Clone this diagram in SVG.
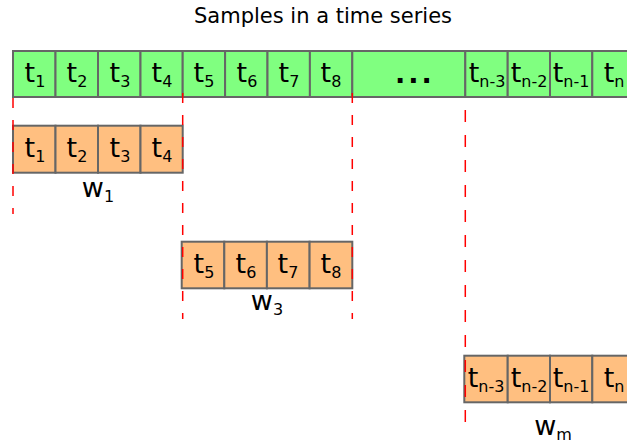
<svg xmlns="http://www.w3.org/2000/svg" width="627" height="447" viewBox="0 0 627 447">
<style>
.g{fill:#80ff80;stroke:#666;stroke-width:2}
.o{fill:#ffbf80;stroke:#666;stroke-width:2}
.t{font-family:"DejaVu Sans",sans-serif;font-size:27px;fill:#000;text-anchor:middle}
.s{font-size:16px}
.d{stroke:#ff0000;stroke-width:1.5;fill:none}
</style>
<rect width="627" height="447" fill="#fff"/>
<text x="323" y="23" font-family="DejaVu Sans, sans-serif" font-size="21" text-anchor="middle">Samples in a time series</text>

<g id="series">
<rect class="g" x="13" y="51" width="42.5" height="46"/>
<rect class="g" x="55.5" y="51" width="42.5" height="46"/>
<rect class="g" x="98" y="51" width="42.5" height="46"/>
<rect class="g" x="140.5" y="51" width="42.2" height="46"/>
<rect class="g" x="182.7" y="51" width="42.4" height="46"/>
<rect class="g" x="225.1" y="51" width="42.4" height="46"/>
<rect class="g" x="267.5" y="51" width="42.4" height="46"/>
<rect class="g" x="309.9" y="51" width="42.4" height="46"/>
<rect class="g" x="352.3" y="51" width="113" height="46"/>
<rect class="g" x="465.3" y="51" width="42.4" height="46"/>
<rect class="g" x="507.7" y="51" width="42.3" height="46"/>
<rect class="g" x="550" y="51" width="42.3" height="46"/>
<rect class="g" x="592.3" y="51" width="43" height="46"/>
<text class="t" x="35" y="82">t<tspan class="s" dy="5">1</tspan></text>
<text class="t" x="77" y="82">t<tspan class="s" dy="5">2</tspan></text>
<text class="t" x="120" y="82">t<tspan class="s" dy="5">3</tspan></text>
<text class="t" x="162" y="82">t<tspan class="s" dy="5">4</tspan></text>
<text class="t" x="204" y="82">t<tspan class="s" dy="5">5</tspan></text>
<text class="t" x="247" y="82">t<tspan class="s" dy="5">6</tspan></text>
<text class="t" x="289" y="82">t<tspan class="s" dy="5">7</tspan></text>
<text class="t" x="331" y="82">t<tspan class="s" dy="5">8</tspan></text>
<text class="t" x="415" y="83" font-weight="bold" font-size="38" letter-spacing="3">...</text>
<text class="t" x="487" y="82">t<tspan class="s" dy="5">n-3</tspan></text>
<text class="t" x="529" y="82">t<tspan class="s" dy="5">n-2</tspan></text>
<text class="t" x="571" y="82">t<tspan class="s" dy="5">n-1</tspan></text>
<text class="t" x="614" y="82">t<tspan class="s" dy="5">n</tspan></text>
</g>

<g id="w1">
<rect class="o" x="13" y="125.7" width="42.5" height="47"/>
<rect class="o" x="55.5" y="125.7" width="42.5" height="47"/>
<rect class="o" x="98" y="125.7" width="42.5" height="47"/>
<rect class="o" x="140.5" y="125.7" width="42.2" height="47"/>
<text class="t" x="35" y="157">t<tspan class="s" dy="5">1</tspan></text>
<text class="t" x="77" y="157">t<tspan class="s" dy="5">2</tspan></text>
<text class="t" x="120" y="157">t<tspan class="s" dy="5">3</tspan></text>
<text class="t" x="162" y="157">t<tspan class="s" dy="5">4</tspan></text>
<text class="t" x="98" y="197" font-size="25">w<tspan class="s" dy="5">1</tspan></text>
</g>

<g id="w3">
<rect class="o" x="181.7" y="241.7" width="42.6" height="46.6"/>
<rect class="o" x="224.3" y="241.7" width="42.6" height="46.6"/>
<rect class="o" x="266.9" y="241.7" width="42.7" height="46.6"/>
<rect class="o" x="309.6" y="241.7" width="42.7" height="46.6"/>
<text class="t" x="204" y="273">t<tspan class="s" dy="5">5</tspan></text>
<text class="t" x="246" y="273">t<tspan class="s" dy="5">6</tspan></text>
<text class="t" x="288" y="273">t<tspan class="s" dy="5">7</tspan></text>
<text class="t" x="331" y="273">t<tspan class="s" dy="5">8</tspan></text>
<text class="t" x="267" y="310" font-size="25">w<tspan class="s" dy="5">3</tspan></text>
</g>

<g id="wm">
<rect class="o" x="464.3" y="355.7" width="43.4" height="46.6"/>
<rect class="o" x="507.7" y="355.7" width="42.3" height="46.6"/>
<rect class="o" x="550" y="355.7" width="42.3" height="46.6"/>
<rect class="o" x="592.3" y="355.7" width="43" height="46.6"/>
<text class="t" x="486" y="387">t<tspan class="s" dy="5">n-3</tspan></text>
<text class="t" x="529" y="387">t<tspan class="s" dy="5">n-2</tspan></text>
<text class="t" x="571" y="387">t<tspan class="s" dy="5">n-1</tspan></text>
<text class="t" x="614" y="387">t<tspan class="s" dy="5">n</tspan></text>
<text class="t" x="553" y="435" font-size="25">w<tspan class="s" dy="5">m</tspan></text>
</g>

<g id="connectors">
<line class="d" x1="13" y1="98" x2="13" y2="214" stroke-dasharray="10 12"/>
<line class="d" x1="182.7" y1="93" x2="182.7" y2="319" stroke-dasharray="10 12"/>
<line class="d" x1="352.3" y1="93" x2="352.3" y2="319" stroke-dasharray="10 12"/>
<line class="d" x1="465.3" y1="110" x2="465.3" y2="431" stroke-dasharray="12 13"/>
</g>
</svg>
